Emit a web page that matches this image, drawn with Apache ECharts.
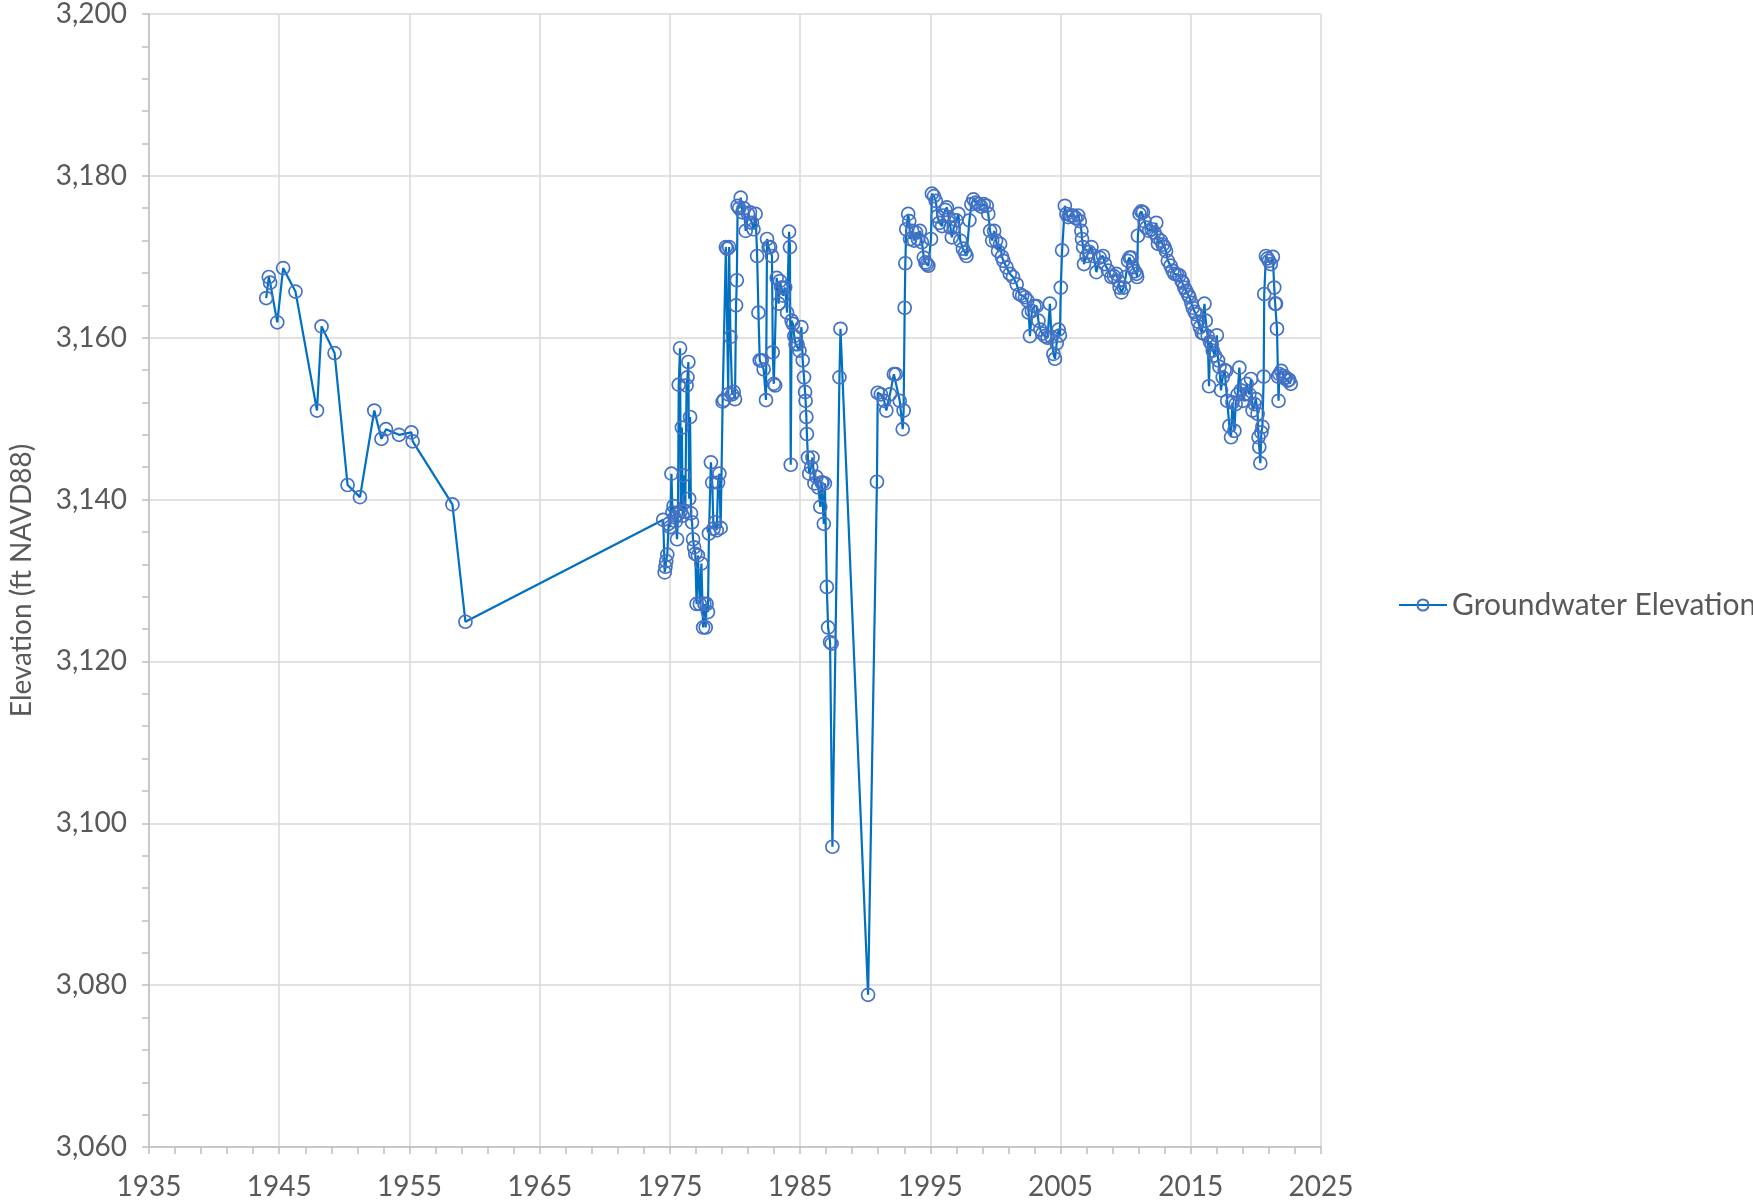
<!DOCTYPE html>
<html>
<head>
<meta charset="utf-8">
<script src="https://cdn.jsdelivr.net/npm/echarts@6/dist/echarts.min.js"></script>
<style>
  html, body { margin: 0; padding: 0; background: #fff; }
  #chart { width: 1753px; height: 1204px; }
</style>
</head>
<body>
<div id="chart"></div>
<script>
// 数据：年份（小数）与地下水位高程 (ft NAVD88)
var seriesName = "Groundwater Elevation";
var yTicks = [3060, 3080, 3100, 3120, 3140, 3160, 3180, 3200];
var xTicks = [1935, 1945, 1955, 1965, 1975, 1985, 1995, 2005, 2015, 2025];

var early = [
  [1944.0, 3164.9], [1944.2, 3167.5], [1944.3, 3166.8], [1944.85, 3161.9], [1945.3, 3168.6],
  [1946.25, 3165.7], [1947.9, 3151.0], [1948.25, 3161.4], [1949.25, 3158.1], [1950.25, 3141.8],
  [1951.2, 3140.3], [1952.3, 3151.0], [1952.85, 3147.5], [1953.2, 3148.7], [1954.2, 3148.0],
  [1955.15, 3148.3], [1955.25, 3147.2], [1958.3, 3139.4], [1959.3, 3124.9]
];

var mid = [
  [1974.49, 3137.5], [1974.6, 3131.0], [1974.66, 3131.7], [1974.72, 3132.4], [1974.8, 3133.2],
  [1974.9, 3137.0], [1975.02, 3136.6], [1975.12, 3143.2], [1975.2, 3138.4], [1975.28, 3139.2],
  [1975.36, 3137.8], [1975.45, 3137.3], [1975.55, 3135.1], [1975.62, 3138.2], [1975.68, 3154.2],
  [1975.78, 3158.7], [1975.84, 3138.6], [1975.92, 3148.9], [1975.98, 3138.0], [1976.05, 3143.0],
  [1976.18, 3138.5], [1976.28, 3154.1], [1976.35, 3155.1], [1976.42, 3157.0], [1976.48, 3140.1],
  [1976.55, 3150.2], [1976.62, 3138.3], [1976.7, 3137.2], [1976.78, 3135.1], [1976.86, 3134.1],
  [1976.95, 3133.3], [1977.05, 3127.1], [1977.15, 3133.1], [1977.3, 3127.1], [1977.42, 3132.1],
  [1977.55, 3124.2], [1977.65, 3127.1], [1977.75, 3124.2], [1977.82, 3127.1], [1977.92, 3126.1],
  [1978.0, 3135.8], [1978.15, 3144.6], [1978.25, 3142.1], [1978.35, 3136.4], [1978.48, 3137.2],
  [1978.6, 3136.2], [1978.7, 3142.1], [1978.8, 3143.2], [1978.9, 3136.5], [1979.05, 3152.1],
  [1979.15, 3152.3], [1979.3, 3171.2], [1979.4, 3171.0], [1979.48, 3153.0], [1979.55, 3171.2],
  [1979.65, 3160.1], [1979.78, 3153.0], [1979.9, 3153.3], [1980.0, 3152.4], [1980.08, 3164.0],
  [1980.14, 3167.1], [1980.2, 3176.3], [1980.32, 3176.0], [1980.44, 3177.3], [1980.56, 3175.5],
  [1980.68, 3176.0], [1980.82, 3173.2], [1981.0, 3175.3], [1981.15, 3175.5], [1981.3, 3174.2],
  [1981.42, 3173.4], [1981.58, 3175.3], [1981.7, 3170.1], [1981.8, 3163.1], [1981.9, 3157.2],
  [1982.05, 3157.2], [1982.2, 3156.1], [1982.38, 3152.3], [1982.46, 3172.2], [1982.58, 3171.2],
  [1982.7, 3171.2], [1982.84, 3170.1], [1982.9, 3158.2], [1982.98, 3154.3], [1983.08, 3154.1],
  [1983.2, 3167.4], [1983.35, 3164.2], [1983.45, 3167.0], [1983.55, 3166.2], [1983.7, 3165.2],
  [1983.85, 3166.2], [1984.0, 3163.1], [1984.15, 3173.1], [1984.22, 3171.2], [1984.28, 3144.3],
  [1984.35, 3162.1], [1984.45, 3161.7], [1984.55, 3160.2], [1984.65, 3159.2], [1984.8, 3159.2],
  [1984.95, 3158.4], [1985.1, 3161.3], [1985.2, 3157.2], [1985.3, 3155.1], [1985.38, 3153.3],
  [1985.42, 3152.2], [1985.48, 3150.2], [1985.52, 3148.1], [1985.6, 3145.2], [1985.7, 3143.2],
  [1985.85, 3144.0], [1985.95, 3145.2], [1986.1, 3142.0], [1986.25, 3142.8], [1986.4, 3141.5],
  [1986.55, 3139.1], [1986.65, 3142.1], [1986.72, 3142.1], [1986.82, 3137.0], [1986.9, 3142.0],
  [1987.05, 3129.2], [1987.15, 3124.2], [1987.3, 3122.4], [1987.42, 3122.2], [1987.48, 3097.1],
  [1988.02, 3155.1], [1988.1, 3161.1], [1990.22, 3078.8]
];

var late90s = [
  [1990.9, 3142.2], [1990.96, 3153.2], [1991.2, 3153.0], [1991.45, 3152.2], [1991.62, 3151.0],
  [1991.9, 3153.0], [1992.2, 3155.5], [1992.35, 3155.5], [1992.65, 3152.2], [1992.88, 3148.7],
  [1992.95, 3151.0], [1993.03, 3163.7], [1993.08, 3169.2], [1993.15, 3173.4], [1993.3, 3175.3],
  [1993.38, 3174.4], [1993.45, 3172.2], [1993.6, 3173.2], [1993.75, 3172.0], [1993.9, 3173.0],
  [1994.05, 3172.2], [1994.2, 3173.2], [1994.35, 3171.8], [1994.5, 3169.9], [1994.62, 3169.3],
  [1994.74, 3169.1], [1994.85, 3168.9], [1995.05, 3172.2], [1995.12, 3177.8], [1995.28, 3177.5],
  [1995.42, 3176.9], [1995.55, 3175.0], [1995.7, 3174.2], [1995.9, 3173.8], [1996.0, 3175.1],
  [1996.15, 3175.8], [1996.27, 3176.1], [1996.4, 3174.9], [1996.55, 3173.6], [1996.65, 3172.4],
  [1996.8, 3173.6], [1997.0, 3174.5], [1997.16, 3175.3], [1997.3, 3172.0], [1997.5, 3171.0],
  [1997.67, 3170.5], [1997.78, 3170.1], [1998.0, 3174.5], [1998.15, 3176.5], [1998.31, 3177.1],
  [1998.5, 3176.7], [1998.7, 3176.5], [1998.9, 3176.2], [1999.1, 3176.5], [1999.33, 3176.3],
  [1999.45, 3175.3], [1999.59, 3173.2], [1999.75, 3172.0], [1999.9, 3173.2], [2000.05, 3172.0],
  [2000.2, 3170.7], [2000.36, 3171.6], [2000.5, 3170.0], [2000.61, 3169.5], [2000.85, 3168.7],
  [2001.1, 3167.9], [2001.35, 3167.5], [2001.63, 3166.6], [2001.85, 3165.4], [2002.05, 3165.2],
  [2002.27, 3165.0], [2002.45, 3164.6], [2002.55, 3163.1], [2002.65, 3160.2], [2002.8, 3163.3],
  [2003.0, 3163.9], [2003.16, 3163.9], [2003.3, 3162.1], [2003.45, 3161.0], [2003.6, 3160.5],
  [2003.8, 3160.2], [2004.0, 3160.0], [2004.18, 3164.2], [2004.3, 3160.1], [2004.45, 3158.0],
  [2004.57, 3157.4], [2004.7, 3159.3], [2004.85, 3161.0], [2004.95, 3160.3]
];

var recent = [
  [2005.02, 3166.2], [2005.12, 3170.8], [2005.33, 3176.3], [2005.45, 3175.3], [2005.6, 3174.9],
  [2005.8, 3175.1], [2005.97, 3175.1], [2006.15, 3174.8], [2006.35, 3175.1], [2006.48, 3174.4],
  [2006.6, 3173.2], [2006.65, 3172.2], [2006.73, 3171.2], [2006.8, 3169.1], [2007.0, 3170.1],
  [2007.2, 3170.6], [2007.37, 3171.2], [2007.55, 3170.1], [2007.75, 3168.1], [2008.0, 3169.9],
  [2008.26, 3170.1], [2008.4, 3169.1], [2008.65, 3168.3], [2008.9, 3167.5], [2009.1, 3167.6],
  [2009.28, 3167.9], [2009.45, 3167.0], [2009.54, 3166.2], [2009.67, 3165.6], [2009.85, 3166.2],
  [2010.0, 3167.5], [2010.18, 3169.5], [2010.3, 3169.9], [2010.43, 3169.9], [2010.55, 3168.7],
  [2010.7, 3168.2], [2010.82, 3167.9], [2010.88, 3167.5], [2010.94, 3172.6], [2011.07, 3175.3],
  [2011.2, 3175.6], [2011.33, 3175.5], [2011.45, 3174.4], [2011.58, 3173.6], [2011.8, 3173.2],
  [2012.0, 3173.4], [2012.2, 3173.0], [2012.35, 3174.2], [2012.42, 3172.4], [2012.48, 3171.6],
  [2012.7, 3172.0], [2012.85, 3171.5], [2012.99, 3171.2], [2013.1, 3170.7], [2013.24, 3169.5],
  [2013.45, 3168.9], [2013.6, 3168.3], [2013.75, 3167.9], [2013.95, 3167.8], [2014.13, 3167.7],
  [2014.3, 3167.0], [2014.39, 3166.8], [2014.5, 3166.2], [2014.64, 3165.8], [2014.8, 3165.3],
  [2014.9, 3165.0], [2015.05, 3164.3], [2015.15, 3163.7], [2015.3, 3163.2], [2015.41, 3162.9],
  [2015.55, 3162.0], [2015.7, 3161.3], [2015.85, 3160.6], [2016.0, 3160.5], [2016.05, 3164.2],
  [2016.15, 3162.1], [2016.3, 3160.2], [2016.4, 3154.0], [2016.48, 3159.5], [2016.6, 3159.2],
  [2016.69, 3158.4], [2016.85, 3157.8], [2017.0, 3160.3], [2017.1, 3157.2], [2017.2, 3156.4],
  [2017.32, 3153.5], [2017.45, 3155.1], [2017.6, 3156.0], [2017.71, 3155.9], [2017.8, 3152.2],
  [2017.96, 3149.1], [2018.09, 3147.7], [2018.2, 3152.0], [2018.35, 3148.5], [2018.45, 3151.8],
  [2018.6, 3153.0], [2018.73, 3156.3], [2018.85, 3153.5], [2019.0, 3152.2], [2019.15, 3153.0],
  [2019.3, 3154.3], [2019.5, 3153.0], [2019.62, 3154.9], [2019.75, 3151.0], [2019.9, 3151.8],
  [2020.0, 3152.4], [2020.13, 3150.6], [2020.2, 3147.7], [2020.26, 3146.5], [2020.34, 3144.5],
  [2020.42, 3148.3], [2020.5, 3149.0], [2020.6, 3155.2], [2020.64, 3165.4], [2020.77, 3170.1],
  [2020.9, 3169.8], [2021.0, 3169.5], [2021.15, 3169.1], [2021.3, 3170.0], [2021.41, 3166.2],
  [2021.48, 3164.2], [2021.54, 3164.2], [2021.62, 3161.1], [2021.7, 3155.2], [2021.74, 3152.2],
  [2021.8, 3155.5], [2021.95, 3155.9], [2022.1, 3155.3], [2022.2, 3155.0], [2022.3, 3155.1],
  [2022.45, 3154.7], [2022.55, 3154.8], [2022.68, 3154.3]
];

var groundwater = early.concat(mid, late90s, recent);

var textColor = "#595959";
var fontFamily = "Lato, 'Open Sans', sans-serif";

var myChart = echarts.init(document.getElementById("chart"));
var option = {
  animation: false,
  backgroundColor: "#fff",
  textStyle: { fontFamily: fontFamily },
  grid: {
    left: 146,
    right: 432,
    top: 13,
    bottom: 57,
  },
  legend: {
    data: [seriesName],
    left: 1393,
    top: 585,
    itemWidth: 48,
    itemHeight: 14,
    itemGap: 6,
    textStyle: { color: textColor, fontSize: 30, fontFamily: fontFamily },
  },
  xAxis: {
    type: "value",
    min: xTicks[0],
    max: xTicks[xTicks.length - 1],
    interval: 10,
    axisLine: { lineStyle: { color: "#bfbfbf", width: 1.5 } },
    axisTick: { show: true, length: 7, lineStyle: { color: "#bfbfbf", width: 1.5 } },
    minorTick: { show: true, splitNumber: 5, length: 7, lineStyle: { color: "#bfbfbf", width: 1.5 } },
    splitLine: { show: true, lineStyle: { color: "#d9d9d9", width: 1.5 } },
    axisLabel: {
      color: textColor,
      fontSize: 28,
      margin: 26,
      formatter: function (v) { return String(v); },
    },
  },
  yAxis: {
    type: "value",
    min: yTicks[0],
    max: yTicks[yTicks.length - 1],
    interval: 20,
    name: "Elevation (ft NAVD88)",
    nameLocation: "middle",
    nameGap: 113,
    nameTextStyle: { color: textColor, fontSize: 28, fontFamily: fontFamily },
    axisLine: { show: true, lineStyle: { color: "#bfbfbf", width: 1.5 } },
    axisTick: { show: true, length: 7, lineStyle: { color: "#bfbfbf", width: 1.5 } },
    minorTick: { show: true, splitNumber: 5, length: 7, lineStyle: { color: "#bfbfbf", width: 1.5 } },
    splitLine: { show: true, lineStyle: { color: "#d9d9d9", width: 1.5 } },
    axisLabel: {
      color: textColor,
      fontSize: 28,
      margin: 22,
      formatter: function (v) { return v.toLocaleString("en-US"); },
    },
  },
  series: [
    {
      name: seriesName,
      type: "line",
      data: groundwater,
      symbol: "circle",
      symbolSize: 13,
      showAllSymbol: true,
      lineStyle: { color: "#0070C0", width: 2.2 },
      itemStyle: { color: "rgba(255,255,255,0)", borderColor: "#4472C4", borderWidth: 1.7 },
      emphasis: { disabled: true },
    },
  ],
};
myChart.setOption(option);
</script>
</body>
</html>
